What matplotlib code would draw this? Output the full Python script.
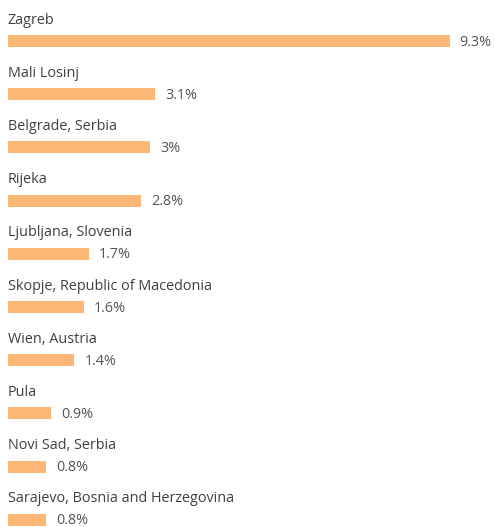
import matplotlib
matplotlib.use("Agg")
import matplotlib.pyplot as plt

cities = [
    "Zagreb",
    "Mali Losinj",
    "Belgrade, Serbia",
    "Rijeka",
    "Ljubljana, Slovenia",
    "Skopje, Republic of Macedonia",
    "Wien, Austria",
    "Pula",
    "Novi Sad, Serbia",
    "Sarajevo, Bosnia and Herzegovina",
]
shares = [9.3, 3.1, 3.0, 2.8, 1.7, 1.6, 1.4, 0.9, 0.8, 0.8]
share_labels = ["9.3%", "3.1%", "3%", "2.8%", "1.7%", "1.6%", "1.4%", "0.9%", "0.8%", "0.8%"]

W, H = 495, 527
fig = plt.figure(figsize=(W / 100, H / 100), dpi=100)
left_px = 8
px_per_unit = 47.5
row_px = 53.2
first_px = 41
ax = fig.add_axes([left_px / W, 0, 1 - left_px / W, 1])
ax.set_xlim(0, (W - left_px) / px_per_unit)
ax.set_ylim((H - first_px) / row_px, -first_px / row_px)
ax.axis("off")

bar_color = "#FDB877"
ypos = list(range(len(cities)))
ax.barh(ypos, shares, height=12 / row_px, color=bar_color, left=0)

font = "Open Sans"
for y, name, v, lab in zip(ypos, cities, shares, share_labels):
    ax.text(0, y - 21 / row_px, name, ha="left", va="center",
            fontsize=10.4, color="#404040", family=font)
    ax.text(v + 10 / px_per_unit, y + 1 / row_px, lab, ha="left", va="center",
            fontsize=10.4, color="#555555", family=font)

fig.savefig("out.png", dpi=100)
